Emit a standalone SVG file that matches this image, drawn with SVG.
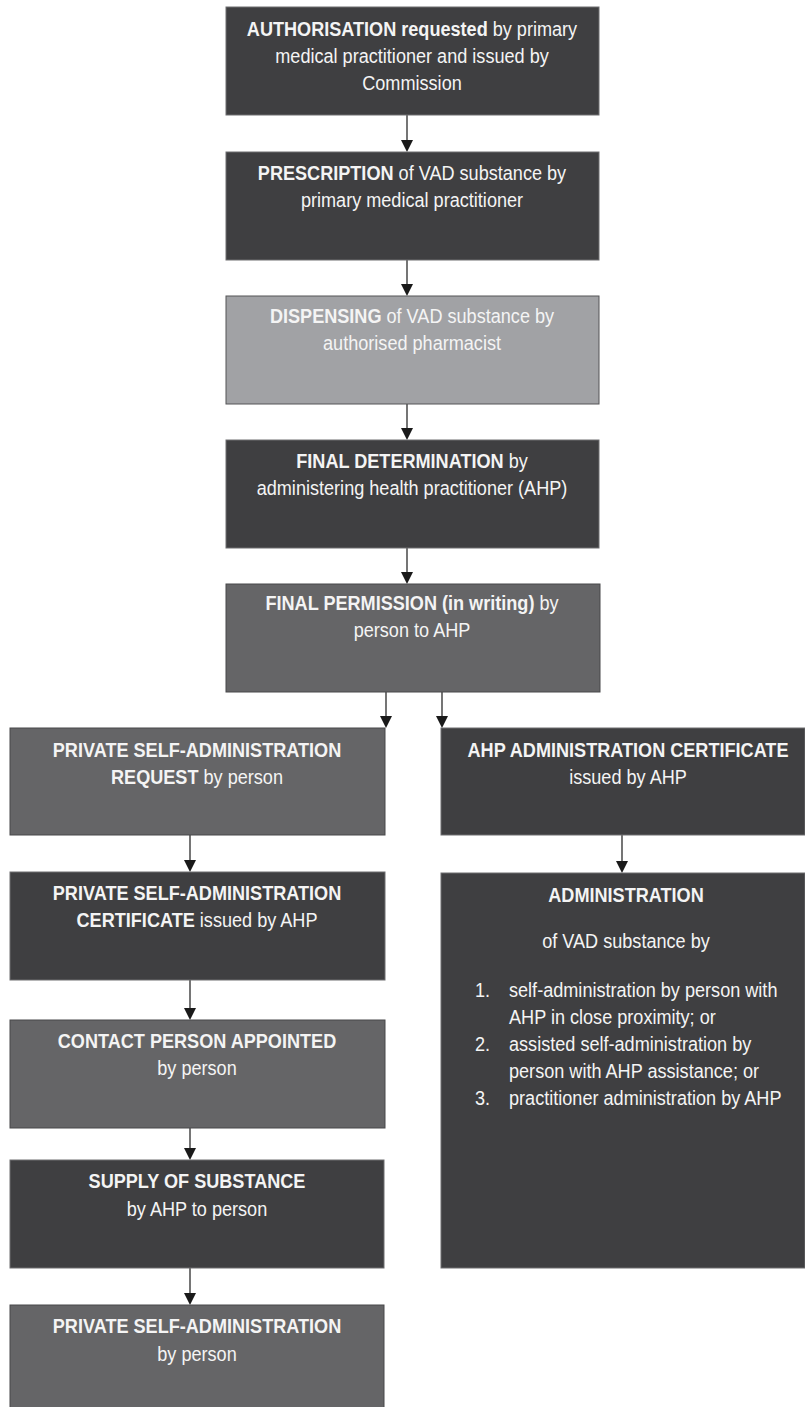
<svg xmlns="http://www.w3.org/2000/svg" width="805" height="1407" viewBox="0 0 805 1407">
<defs>
<style>
.dark{fill:#3f3f41;stroke:#6e6e70;stroke-width:1}
.mid{fill:#656567;stroke:#48484a;stroke-width:1}
.light{fill:#a1a2a5;stroke:#555557;stroke-width:1}
text{font-family:"Liberation Sans",Arial,sans-serif;font-size:20px;fill:#f4f4f4;text-anchor:middle}
.l{text-anchor:start}
.b{font-weight:bold}
.c line{stroke:#1a1a1a;stroke-width:1.2}
.c path{fill:#1a1a1a}
</style>
</defs>
<rect width="805" height="1407" fill="#ffffff"/>
<g class="c" id="connectors">
<line x1="407" y1="115" x2="407" y2="140"/><path d="M401,140 L413,140 L407,152 Z"/>
<line x1="407" y1="260" x2="407" y2="284"/><path d="M401,284 L413,284 L407,296 Z"/>
<line x1="407" y1="404" x2="407" y2="428"/><path d="M401,428 L413,428 L407,440 Z"/>
<line x1="407" y1="548" x2="407" y2="572"/><path d="M401,572 L413,572 L407,584 Z"/>
<line x1="386" y1="692" x2="386" y2="716"/><path d="M380,716 L392,716 L386,728 Z"/>
<line x1="442" y1="692" x2="442" y2="716"/><path d="M436,716 L448,716 L442,728 Z"/>
<line x1="190" y1="835" x2="190" y2="860"/><path d="M184,860 L196,860 L190,872 Z"/>
<line x1="622" y1="835" x2="622" y2="861"/><path d="M616,861 L628,861 L622,873 Z"/>
<line x1="190" y1="980" x2="190" y2="1008"/><path d="M184,1008 L196,1008 L190,1020 Z"/>
<line x1="190" y1="1128" x2="190" y2="1148"/><path d="M184,1148 L196,1148 L190,1160 Z"/>
<line x1="190" y1="1268" x2="190" y2="1293"/><path d="M184,1293 L196,1293 L190,1305 Z"/>
</g>
<g id="n1"><rect class="dark" x="226" y="7" width="373" height="108"/>
<text transform="translate(412,36) scale(0.905,1)"><tspan class="b">AUTHORISATION requested</tspan> by primary</text>
<text transform="translate(412,63) scale(0.905,1)">medical practitioner and issued by</text>
<text transform="translate(412,90) scale(0.905,1)">Commission</text></g>
<g id="n2"><rect class="dark" x="226" y="152" width="373" height="108"/>
<text transform="translate(412,180) scale(0.905,1)"><tspan class="b">PRESCRIPTION</tspan> of VAD substance by</text>
<text transform="translate(412,207) scale(0.905,1)">primary medical practitioner</text></g>
<g id="n3"><rect class="light" x="226" y="296" width="373" height="108"/>
<text transform="translate(412,323) scale(0.905,1)"><tspan class="b">DISPENSING</tspan> of VAD substance by</text>
<text transform="translate(412,350) scale(0.905,1)">authorised pharmacist</text></g>
<g id="n4"><rect class="dark" x="226" y="440" width="373" height="108"/>
<text transform="translate(412,468) scale(0.905,1)"><tspan class="b">FINAL DETERMINATION</tspan> by</text>
<text transform="translate(412,495) scale(0.905,1)">administering health practitioner (AHP)</text></g>
<g id="n5"><rect class="mid" x="226" y="584" width="374" height="108"/>
<text transform="translate(412,610) scale(0.905,1)"><tspan class="b">FINAL PERMISSION (in writing)</tspan> by</text>
<text transform="translate(412,637) scale(0.905,1)">person to AHP</text></g>
<g id="n6"><rect class="mid" x="10" y="728" width="375" height="107"/>
<text class="b" transform="translate(197,757) scale(0.905,1)">PRIVATE SELF-ADMINISTRATION</text>
<text transform="translate(197,784) scale(0.905,1)"><tspan class="b">REQUEST</tspan> by person</text></g>
<g id="n7"><rect class="dark" x="441" y="728" width="364" height="107"/>
<text class="b" transform="translate(628,757) scale(0.905,1)">AHP ADMINISTRATION CERTIFICATE</text>
<text transform="translate(628,784) scale(0.905,1)">issued by AHP</text></g>
<g id="n8"><rect class="dark" x="10" y="872" width="375" height="108"/>
<text class="b" transform="translate(197,900) scale(0.905,1)">PRIVATE SELF-ADMINISTRATION</text>
<text transform="translate(197,927) scale(0.905,1)"><tspan class="b">CERTIFICATE</tspan> issued by AHP</text></g>
<g id="n9"><rect class="dark" x="441" y="873" width="364" height="395"/>
<text class="b" transform="translate(626,902) scale(0.905,1)">ADMINISTRATION</text>
<text transform="translate(626,948) scale(0.905,1)">of VAD substance by</text>
<text class="l" transform="translate(475,997) scale(0.905,1)">1.</text><text class="l" transform="translate(509,997) scale(0.905,1)">self-administration by person with</text>
<text class="l" transform="translate(509,1024) scale(0.905,1)">AHP in close proximity; or</text>
<text class="l" transform="translate(475,1051) scale(0.905,1)">2.</text><text class="l" transform="translate(509,1051) scale(0.905,1)">assisted self-administration by</text>
<text class="l" transform="translate(509,1078) scale(0.905,1)">person with AHP assistance; or</text>
<text class="l" transform="translate(475,1105) scale(0.905,1)">3.</text><text class="l" transform="translate(509,1105) scale(0.905,1)">practitioner administration by AHP</text></g>
<g id="n10"><rect class="mid" x="10" y="1020" width="375" height="108"/>
<text class="b" transform="translate(197,1048) scale(0.905,1)">CONTACT PERSON APPOINTED</text>
<text transform="translate(197,1075) scale(0.905,1)">by person</text></g>
<g id="n11"><rect class="dark" x="10" y="1160" width="374" height="108"/>
<text class="b" transform="translate(197,1188) scale(0.905,1)">SUPPLY OF SUBSTANCE</text>
<text transform="translate(197,1216) scale(0.905,1)">by AHP to person</text></g>
<g id="n12"><rect class="mid" x="10" y="1305" width="374" height="110"/>
<text class="b" transform="translate(197,1333) scale(0.905,1)">PRIVATE SELF-ADMINISTRATION</text>
<text transform="translate(197,1361) scale(0.905,1)">by person</text></g>
</svg>
